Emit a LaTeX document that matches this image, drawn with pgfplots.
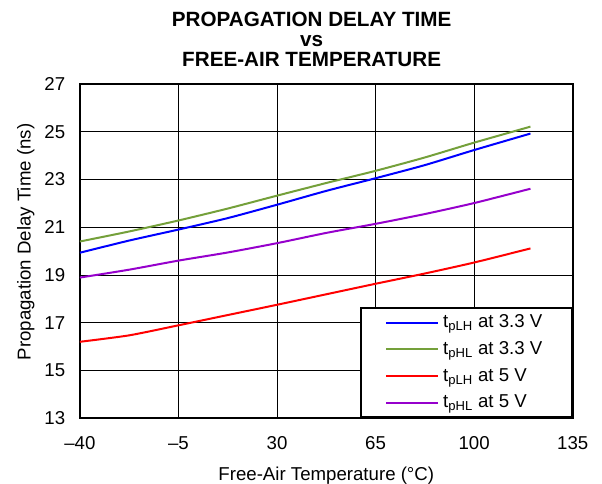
\documentclass[border=0pt]{standalone}
\usepackage{fontspec}
\setmainfont{Liberation Sans}
\usepackage{pgfplots}
\pgfplotsset{compat=1.18}
\definecolor{cblue}{RGB}{0,0,255}
\definecolor{cgreen}{RGB}{116,160,58}
\definecolor{cred}{RGB}{255,0,0}
\definecolor{cpurple}{RGB}{150,0,204}
\begin{document}
\begin{tikzpicture}
\path[use as bounding box] (-60pt,-49pt) rectangle (392pt,314pt);
\begin{axis}[
  at={(0,0)}, anchor=south west,
  scale only axis, width=370pt, height=251pt,
  xmin=-40, xmax=135, ymin=13, ymax=27,
  xtick={-40,-5,30,65,100,135},
  xticklabels={\textendash40,\textendash5,30,65,100,135},
  ytick={13,15,...,27},
  grid=major,
  major grid style={black, line width=0.6pt},
  axis line style={black, line width=1.5pt},
  tick style={draw=none},
  /pgf/number format/assume math mode=true,
  ticklabel style={font=\fontsize{14}{16}\selectfont},
  xlabel={Free-Air Temperature (°C)},
  ylabel={Propagation Delay Time (ns)},
  label style={font=\fontsize{14}{16}\selectfont},
  xlabel style={at={(axis description cs:0.5,0)}, anchor=base, yshift=-47pt},
  ylabel style={at={(axis description cs:0,0.527)}, anchor=base, yshift=37pt},
  xticklabel style={yshift=-10.5pt},
  yticklabel style={xshift=-7.5pt},
  legend cell align=left,
  legend style={at={(1,0)}, anchor=south east, draw=black, line width=1.5pt,
    font=\fontsize{14}{16}\selectfont, /tikz/row sep=0pt,
    nodes={inner sep=0pt, text height=14pt, text depth=6pt},
    inner xsep=18pt, inner ysep=1pt},
  legend image code/.code={\draw[#1, line width=1.5pt] (0pt,0pt) -- (39pt,0pt); \path (42pt,0pt);},
  every axis plot/.append style={line width=1.5pt, smooth, tension=0.4},
]
\addplot[cblue] coordinates {(-40,19.93) (-22.5,20.44) (-5,20.9) (12.5,21.38) (30,21.94) (47.5,22.52) (65,23.05) (82.5,23.6) (100,24.23) (120,24.92)};
\addlegendentry{t\textsubscript{pLH} at 3.3 V\rule{4pt}{0pt}}
\addplot[cgreen] coordinates {(-40,20.4) (-22.5,20.82) (-5,21.28) (12.5,21.78) (30,22.32) (47.5,22.85) (65,23.36) (82.5,23.92) (100,24.54) (120,25.21)};
\addlegendentry{t\textsubscript{pHL} at 3.3 V}
\addplot[cred] coordinates {(-40,16.2) (-22.5,16.47) (-5,16.89) (12.5,17.32) (30,17.75) (47.5,18.19) (65,18.63) (82.5,19.06) (100,19.52) (120,20.11)};
\addlegendentry{t\textsubscript{pLH} at 5 V}
\addplot[cpurple] coordinates {(-40,18.89) (-22.5,19.22) (-5,19.6) (12.5,19.94) (30,20.33) (47.5,20.76) (65,21.14) (82.5,21.55) (100,22.01) (120,22.61)};
\addlegendentry{t\textsubscript{pHL} at 5 V}
\end{axis}
\node[font=\bfseries\fontsize{15.5}{15}\selectfont, align=center, anchor=north, inner sep=0pt] at (174pt,304.8pt) {PROPAGATION DELAY TIME\\vs\\FREE-AIR TEMPERATURE};
\end{tikzpicture}
\end{document}
